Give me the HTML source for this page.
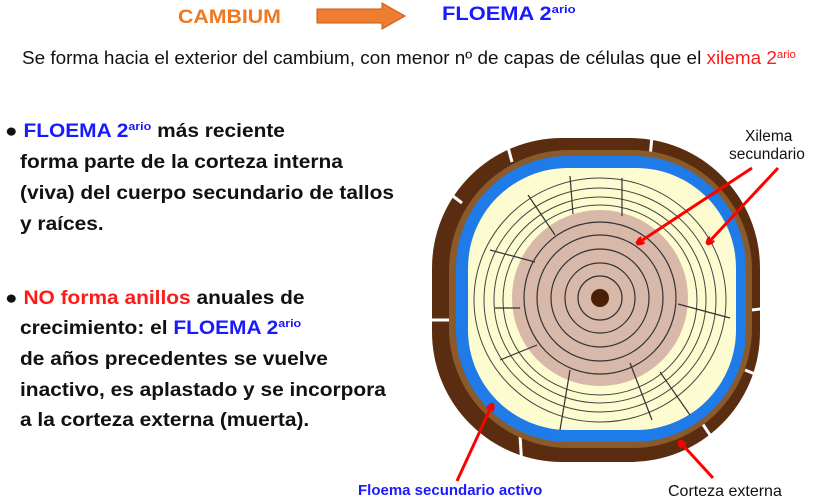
<!DOCTYPE html>
<html><head><meta charset="utf-8"><style>
body{margin:0;width:814px;height:500px;background:#fff;position:relative;overflow:hidden;font-family:"Liberation Sans",Arial,sans-serif}
.t{position:absolute;white-space:nowrap;transform-origin:0 0}
.b{font-weight:bold;font-size:19px;color:#111;transform:scaleX(1.1)}
sup{font-size:60%;vertical-align:0;position:relative;top:-.6em}
.bl{color:#1a1aff}.rd{color:#ff1a1a}
</style></head><body>
<div class="t" style="left:178px;top:7px;font-size:19px;font-weight:bold;color:#f07820;transform:scaleX(1.12)">CAMBIUM</div>
<svg style="position:absolute;left:316px;top:2px" width="92" height="28"><polygon points="1,7 66,7 66,1 89,14 66,27 66,21 1,21" fill="#ee7d31" stroke="#c05a10" stroke-width="1"/></svg>
<div class="t" style="left:442px;top:4px;font-size:19px;font-weight:bold;color:#1a1aff;transform:scaleX(1.15)">FLOEMA 2<sup>ario</sup></div>
<div class="t" style="left:22px;top:48px;font-size:18px;color:#111;transform:scaleX(1.05)">Se forma hacia el exterior del cambium, con menor nº de capas de células que el <span class="rd">xilema 2<sup>ario</sup></span></div>

<div class="t b" style="left:5px;top:121px">● <span class="bl">FLOEMA 2<sup>ario</sup></span> más reciente</div>
<div class="t b" style="left:20px;top:152px">forma parte de la corteza interna</div>
<div class="t b" style="left:20px;top:183px">(viva) del cuerpo secundario de tallos</div>
<div class="t b" style="left:20px;top:214px">y raíces.</div>
<div class="t b" style="left:5px;top:288px">● <span class="rd">NO forma anillos</span> anuales de</div>
<div class="t b" style="left:20px;top:318px">crecimiento: el <span class="bl">FLOEMA 2<sup>ario</sup></span></div>
<div class="t b" style="left:20px;top:349px">de años precedentes se vuelve</div>
<div class="t b" style="left:20px;top:380px">inactivo, es aplastado y se incorpora</div>
<div class="t b" style="left:20px;top:410px">a la corteza externa (muerta).</div>

<svg style="position:absolute;left:0;top:0" width="814" height="500">
<defs><marker id="a" markerWidth="8" markerHeight="8" refX="6" refY="4" orient="auto" markerUnits="userSpaceOnUse"><path d="M0,0 L8,4 L0,8" fill="none" stroke="#f00" stroke-width="3"/></marker></defs>
<rect x="432" y="138" width="328" height="324" rx="130" fill="#5a2d10"/>
<g stroke="#fff" stroke-width="3">
<line x1="505" y1="136" x2="512" y2="162"/><line x1="652" y1="136" x2="650" y2="158"/>
<line x1="752" y1="310" x2="768" y2="308"/><line x1="745" y1="370" x2="765" y2="378"/>
<line x1="700" y1="420" x2="712" y2="438"/><line x1="520" y1="435" x2="522" y2="468"/>
<line x1="428" y1="320" x2="452" y2="320"/><line x1="445" y1="190" x2="462" y2="203"/>
</g>
<rect x="449" y="150" width="303" height="298" rx="120" fill="#8b5a2b"/>
<rect x="456" y="156" width="290" height="286" rx="112" fill="#1e7be8"/>
<rect x="468" y="168" width="268" height="262" rx="100" fill="#fdfbd0"/>
<g fill="none" stroke="#444" stroke-width="1">
<ellipse cx="600" cy="300" rx="126" ry="122"/><ellipse cx="600" cy="300" rx="116" ry="112"/><ellipse cx="600" cy="300" rx="106" ry="103"/><ellipse cx="600" cy="300" rx="97" ry="95"/>
</g>
<circle cx="600" cy="298" r="88" fill="#d8b8a8"/>
<g fill="none" stroke="#333" stroke-width="1.2">
<circle cx="600" cy="298" r="76"/><circle cx="600" cy="298" r="63"/><circle cx="600" cy="298" r="49"/><circle cx="600" cy="298" r="35"/><circle cx="600" cy="298" r="22"/>
<path d="M570,176 L573,214 M622,178 L622,216 M528,195 L555,235 M490,250 L535,262 M495,308 L520,308 M500,360 L537,345 M570,370 L560,430 M630,363 L652,420 M660,372 L690,415 M678,304 L730,318"/>
</g>
<circle cx="600" cy="298" r="9" fill="#4a2008"/>
<g stroke="#f00" stroke-width="3" marker-end="url(#a)">
<line x1="752" y1="168" x2="638" y2="243"/>
<line x1="778" y1="168" x2="708" y2="243"/>
<line x1="457" y1="481" x2="492" y2="405"/>
<line x1="713" y1="478" x2="680" y2="442"/>
</g>
</svg>
<div class="t" style="left:745px;top:128px;font-size:15.5px;color:#111">Xilema</div>
<div class="t" style="left:729px;top:146px;font-size:15.5px;color:#111">secundario</div>
<div class="t" style="left:358px;top:482px;font-size:15px;font-weight:bold;color:#1a1aff">Floema secundario activo</div>
<div class="t" style="left:668px;top:483px;font-size:16px;color:#111">Corteza externa</div>
</body></html>
